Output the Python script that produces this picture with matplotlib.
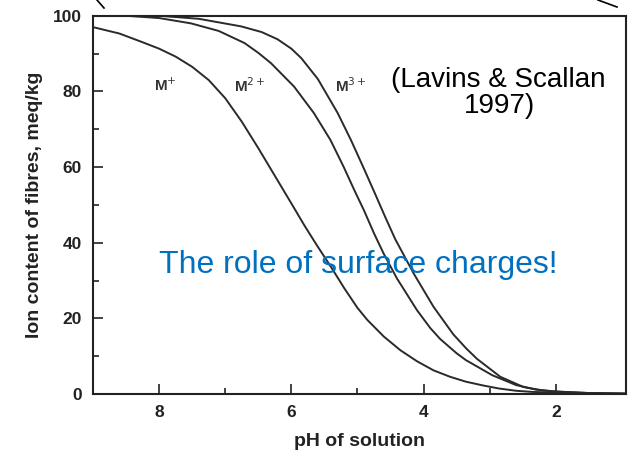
import matplotlib.pyplot as plt
from matplotlib.lines import Line2D

plt.rcParams['font.family'] = ['Liberation Sans', 'DejaVu Sans']

# values
ph_m1 = [9.0, 8.6, 8.25, 8.0, 7.75, 7.5, 7.25, 7.0, 6.75, 6.5, 6.25, 6.0, 5.8, 5.62, 5.4, 5.2, 5.0, 4.85, 4.6, 4.35, 4.1, 3.85, 3.6, 3.36, 3.1, 2.86, 2.6, 2.36, 2.0, 1.5, 0.94]
ion_m1 = [97.0, 95.3, 93.0, 91.3, 89.2, 86.5, 83.0, 78.2, 72.0, 65.0, 57.7, 50.4, 44.5, 39.5, 33.6, 28.0, 22.8, 19.6, 15.2, 11.6, 8.7, 6.3, 4.6, 3.3, 2.3, 1.5, 0.9, 0.6, 0.4, 0.2, 0.1]

ph_m2 = [8.5, 8.0, 7.52, 7.1, 6.71, 6.5, 6.31, 5.96, 5.66, 5.41, 5.21, 5.05, 4.9, 4.75, 4.6, 4.4, 4.1, 3.9, 3.75, 3.5, 3.36, 2.96, 2.6, 2.3, 2.0, 1.5, 0.94]
ion_m2 = [100.0, 99.4, 98.0, 96.0, 92.8, 90.2, 87.5, 81.3, 74.3, 67.2, 60.1, 54.0, 48.5, 42.5, 37.0, 30.5, 22.2, 17.5, 14.6, 10.8, 9.0, 5.0, 2.4, 1.2, 0.7, 0.3, 0.15]

ph_m3 = [8.0, 7.4, 6.76, 6.45, 6.21, 6.0, 5.85, 5.6, 5.3, 5.1, 4.9, 4.73, 4.58, 4.43, 4.15, 3.85, 3.55, 3.35, 3.19, 2.84, 2.49, 2.2, 2.0, 1.5, 0.94]
ion_m3 = [100.0, 99.2, 97.2, 95.7, 93.8, 91.3, 88.8, 83.3, 74.3, 67.2, 59.5, 52.8, 46.8, 41.0, 31.9, 23.1, 15.8, 12.0, 9.3, 4.6, 1.9, 1.0, 0.7, 0.3, 0.15]

x_major = [8, 6, 4, 2]
x_minor = [7, 5, 3]
y_major = [0, 20, 40, 60, 80, 100]
y_minor = [10, 30, 50, 70, 90]

fig = plt.figure(figsize=(6.29, 4.51), dpi=100)
ax = fig.add_axes([0.148, 0.126, 0.847, 0.839])

for xs, ys in [(ph_m1, ion_m1), (ph_m2, ion_m2), (ph_m3, ion_m3)]:
    ax.plot(xs, ys, color='#2a2a2a', lw=1.4)

ax.set_xlim(9.0, 0.94)
ax.set_ylim(0, 100)
ax.set_xticks(x_major)
ax.set_xticks(x_minor, minor=True)
ax.set_yticks(y_major)
ax.set_yticks(y_minor, minor=True)
ax.tick_params(which='both', direction='in', colors='#222222', width=1.2,
               labelsize=12.5, top=False, right=False)
ax.tick_params(which='major', length=7, pad=8)
ax.tick_params(which='minor', length=4)
for lab in ax.get_xticklabels() + ax.get_yticklabels():
    lab.set_fontweight('bold')
for s in ax.spines.values():
    s.set_linewidth(1.5)
    s.set_color('#222222')

ax.set_xlabel('pH of solution', fontsize=14, fontweight='bold', color='#222222', labelpad=9)
ax.set_ylabel('Ion content of fibres, meq/kg', fontsize=14, fontweight='bold', color='#222222', labelpad=7)

ax.text(7.9, 81.5, 'M$^{+}$', fontsize=11, fontweight='bold', ha='center', va='center', color='#333333')
ax.text(6.63, 81.5, 'M$^{2+}$', fontsize=11, fontweight='bold', ha='center', va='center', color='#333333')
ax.text(5.1, 81.5, 'M$^{3+}$', fontsize=11, fontweight='bold', ha='center', va='center', color='#333333')

ax.text(2.87, 81.1, '(Lavins & Scallan', fontsize=20, ha='center', va='baseline', color='black')
ax.text(2.85, 74.3, '1997)', fontsize=20, ha='center', va='baseline', color='black')
ax.text(4.99, 32.0, 'The role of surface charges!', fontsize=23, ha='center', va='baseline',
        color='#0070C0')

# corner strokes of the callout outline above the plot
fig.add_artist(Line2D([97 / 629, 104 / 629], [1.0, 1 - 8 / 451], color='black', lw=1.2))
fig.add_artist(Line2D([598 / 629, 617 / 629], [1.0, 1 - 7 / 451], color='black', lw=1.2))

fig.savefig('out.png', dpi=100)
